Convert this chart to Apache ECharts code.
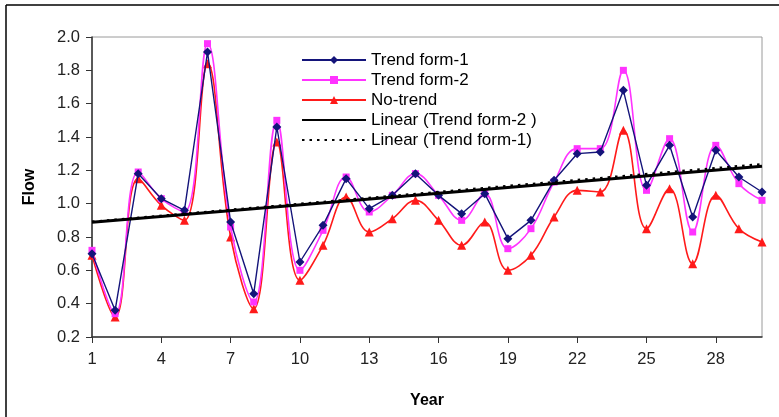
<!DOCTYPE html>
<html>
<head>
<meta charset="utf-8">
<script src="https://cdn.jsdelivr.net/npm/echarts@6/dist/echarts.min.js"></script>
<style>
  html, body { margin: 0; padding: 0; background: #fff; }
  #chart { width: 779px; height: 417px; }
</style>
</head>
<body>
<div id="chart"></div>
<script>
// Annual flow series, years 1-30
const years = ['1','2','3','4','5','6','7','8','9','10','11','12','13','14','15',
               '16','17','18','19','20','21','22','23','24','25','26','27','28','29','30'];
const trendForm1 = [0.70,0.36,1.18,1.03,0.96,1.91,0.89,0.46,1.46,0.65,0.87,1.15,0.97,1.05,1.18,
                    1.05,0.94,1.06,0.79,0.90,1.14,1.30,1.31,1.68,1.11,1.35,0.92,1.32,1.16,1.07];
const trendForm2 = [0.72,0.34,1.19,1.03,0.95,1.96,0.86,0.41,1.50,0.60,0.84,1.16,0.95,1.05,1.18,
                    1.05,0.90,1.06,0.73,0.85,1.13,1.33,1.33,1.80,1.08,1.39,0.83,1.35,1.12,1.02];
const noTrend    = [0.69,0.32,1.15,0.99,0.90,1.84,0.80,0.37,1.37,0.54,0.75,1.04,0.83,0.91,1.02,
                    0.90,0.75,0.89,0.60,0.69,0.92,1.08,1.07,1.44,0.85,1.09,0.64,1.05,0.85,0.77];
const yTicks = { min: 0.2, max: 2.0, step: 0.2 };

// Least-squares linear fit over the year index; returns the two end points
function linearFit(values) {
  const n = values.length;
  let sx = 0, sy = 0, sxx = 0, sxy = 0;
  values.forEach((v, i) => { const x = i + 1; sx += x; sy += v; sxx += x * x; sxy += x * v; });
  const b = (n * sxy - sx * sy) / (n * sxx - sx * sx);
  const a = (sy - b * sx) / n;
  return [[years[0], a + b * 1], [years[n - 1], a + b * n]];
}

const font = "'Liberation Sans', Arial, sans-serif";
const chart = echarts.init(document.getElementById('chart'));

chart.setOption({
  backgroundColor: '#fff',
  animation: false,
  graphic: [
    { type: 'line', shape: { x1: 6, y1: 5, x2: 779, y2: 5 }, style: { stroke: '#000', lineWidth: 1.5 } },
    { type: 'line', shape: { x1: 6, y1: 5, x2: 6, y2: 417 }, style: { stroke: '#000', lineWidth: 1.5 } }
  ],
  grid: {
    left: 92, right: 17, top: 37, bottom: 80,
    show: true, borderColor: '#9a9a9a', borderWidth: 1
  },
  legend: {
    orient: 'vertical',
    left: 296, top: 45,
    itemWidth: 64, itemHeight: 10, itemGap: 0,
    textStyle: { fontFamily: font, fontSize: 17, color: '#000', lineHeight: 20 },
    data: [
      'Trend form-1', 'Trend form-2', 'No-trend',
      { name: 'Linear (Trend form-2 )', itemStyle: { opacity: 0 } },
      { name: 'Linear (Trend form-1)', itemStyle: { opacity: 0 } }
    ]
  },
  xAxis: {
    type: 'category',
    data: years,
    boundaryGap: false,
    name: 'Year',
    nameLocation: 'middle',
    nameGap: 56,
    nameTextStyle: { fontFamily: font, fontSize: 16, fontWeight: 'bold', color: '#000' },
    axisLine: { lineStyle: { color: '#333', width: 1.5 } },
    axisTick: { interval: 2, length: 6, lineStyle: { color: '#333' } },
    axisLabel: { interval: 2, margin: 14, fontFamily: font, fontSize: 16.5, color: '#222' },
    splitLine: { show: false }
  },
  yAxis: {
    type: 'value',
    min: yTicks.min, max: yTicks.max, interval: yTicks.step,
    name: 'Flow',
    nameLocation: 'middle',
    nameGap: 54,
    nameRotate: 90,
    nameTextStyle: { fontFamily: font, fontSize: 16, fontWeight: 'bold', color: '#000' },
    axisLine: { show: true, lineStyle: { color: '#333', width: 1.5 } },
    axisTick: { show: true, length: 6, lineStyle: { color: '#333' } },
    axisLabel: { margin: 12, fontFamily: font, fontSize: 16.5, color: '#222', formatter: v => v.toFixed(1) },
    splitLine: { show: false }
  },
  series: [
    {
      name: 'No-trend', type: 'line', data: noTrend, smooth: 0.4,
      symbol: 'triangle', symbolSize: 9,
      itemStyle: { color: '#ff1a1a' }, lineStyle: { color: '#ff1a1a', width: 1.6 }, z: 2
    },
    {
      name: 'Trend form-2', type: 'line', data: trendForm2, smooth: 0.4,
      symbol: 'rect', symbolSize: 7,
      itemStyle: { color: '#ff33ff' }, lineStyle: { color: '#ff33ff', width: 1.6 }, z: 3
    },
    {
      name: 'Trend form-1', type: 'line', data: trendForm1, smooth: false,
      symbol: 'diamond', symbolSize: 9,
      itemStyle: { color: '#14147a' }, lineStyle: { color: '#14147a', width: 1.4 }, z: 4
    },
    {
      name: 'Linear (Trend form-2 )', type: 'line', data: linearFit(trendForm2),
      symbol: 'none', lineStyle: { color: '#000', width: 3 }, itemStyle: { color: '#000' }, z: 5
    },
    {
      name: 'Linear (Trend form-1)', type: 'line', data: linearFit(trendForm1),
      symbol: 'none', lineStyle: { color: '#000', width: 2.5, type: [2.5, 5] }, itemStyle: { color: '#000' }, z: 6
    }
  ]
});
</script>
</body>
</html>
